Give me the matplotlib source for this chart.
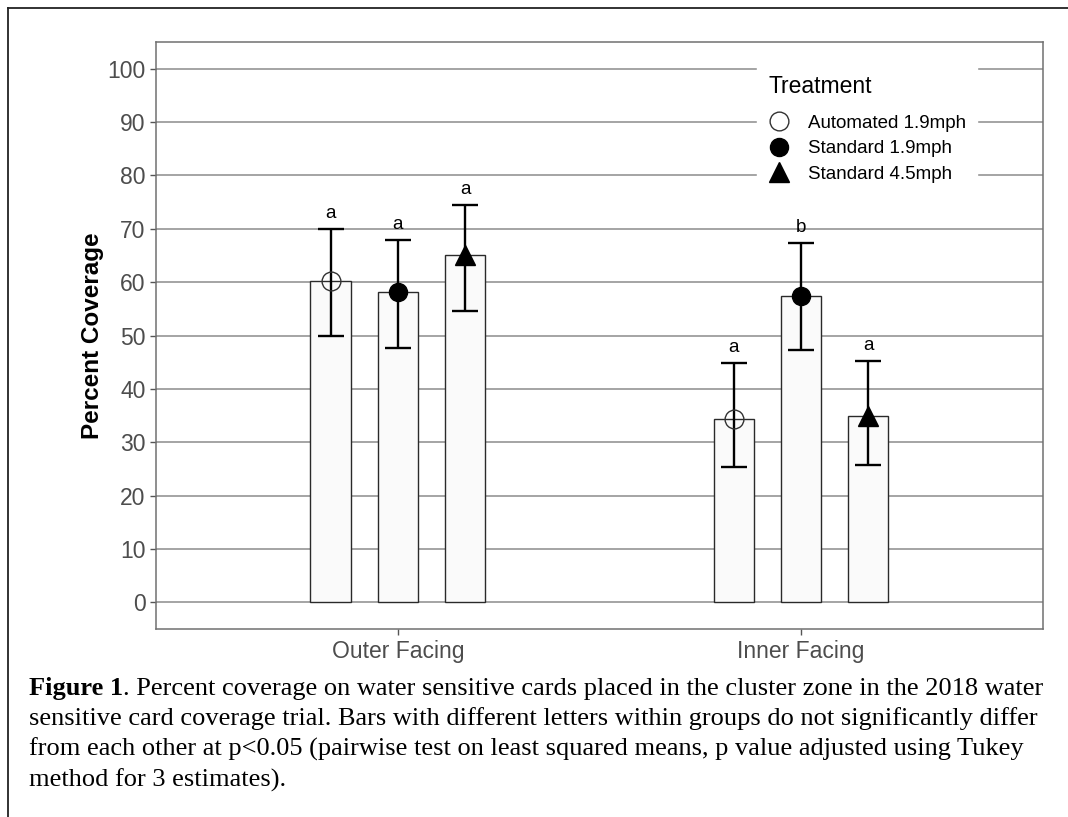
import matplotlib.pyplot as plt
import numpy as np
from matplotlib.lines import Line2D

# Data
groups = ["Outer Facing", "Inner Facing"]
treatments = ["Automated 1.9mph", "Standard 1.9mph", "Standard 4.5mph"]
means = {
    "Automated 1.9mph": [60.2, 34.4],
    "Standard 1.9mph": [58.1, 57.4],
    "Standard 4.5mph": [65.0, 34.9],
}
upper = {
    "Automated 1.9mph": [69.9, 44.9],
    "Standard 1.9mph": [67.9, 67.4],
    "Standard 4.5mph": [74.4, 45.3],
}
lower = {
    "Automated 1.9mph": [50.0, 25.4],
    "Standard 1.9mph": [47.7, 47.2],
    "Standard 4.5mph": [54.6, 25.8],
}
letters = {
    "Automated 1.9mph": ["a", "a"],
    "Standard 1.9mph": ["a", "b"],
    "Standard 4.5mph": ["a", "a"],
}
yticks = list(range(0, 101, 10))

caption_lines = [
    "Percent coverage on water sensitive cards placed in the cluster zone in the 2018 water",
    "sensitive card coverage trial. Bars with different letters within groups do not significantly differ",
    "from each other at p<0.05 (pairwise test on least squared means, p value adjusted using Tukey",
    "method for 3 estimates).",
]

# marker styles per treatment
styles = {
    "Automated 1.9mph": dict(marker="o", mfc="none", mec="#333333", mew=1.0, ms=13.5),
    "Standard 1.9mph": dict(marker="o", mfc="black", mec="black", mew=1.0, ms=13),
    "Standard 4.5mph": dict(marker="^", mfc="black", mec="black", mew=1.0, ms=15),
}

plt.rcParams['font.family'] = ['Liberation Sans', 'DejaVu Sans']

fig = plt.figure(figsize=(10.68, 8.17), dpi=100)
ax = fig.add_axes([0.146, 0.2301, 0.8306, 0.7185])

x = np.arange(len(groups))
dodge = 1 / 6
width = 0.1

for i, t in enumerate(treatments):
    xpos = x + (i - 1) * dodge
    m = np.array(means[t])
    ax.bar(xpos, m, width=width, color="#fafafa", edgecolor="#2a2a2a",
           linewidth=1.0, zorder=2)
    yerr = [m - np.array(lower[t]), np.array(upper[t]) - m]
    ax.errorbar(xpos, m, yerr=yerr, fmt="none", ecolor="black",
                elinewidth=1.7, capsize=9.3, capthick=1.7, zorder=3)
    ax.plot(xpos, m, ls="none", zorder=4, **styles[t])
    for xp, up, lab in zip(xpos, upper[t], letters[t]):
        ax.annotate(lab, (xp, up), xytext=(0, 5), textcoords="offset points",
                    ha="center", va="bottom", fontsize=13.5, color="black")

ax.set_xlim(-0.6, 1.6)
ax.set_ylim(-5, 105)
ax.set_yticks(yticks)
ax.set_xticks(x)
ax.set_xticklabels(groups)
ax.tick_params(axis="both", colors="#555555", labelcolor="#4d4d4d",
               labelsize=16.5, length=4, width=1.0)
ax.tick_params(axis="x", pad=4)
ax.grid(axis="y", color="#8c8c8c", linewidth=1.1, zorder=0)
ax.set_axisbelow(True)
for s in ax.spines.values():
    s.set_color("#707070")
    s.set_linewidth(1.1)
ax.set_ylabel("Percent Coverage", fontsize=17.5, fontweight="bold",
              color="black", labelpad=2)

# legend
handles = [Line2D([], [], ls="none", **styles[t]) for t in treatments]
leg = ax.legend(handles, treatments, title="Treatment", loc="upper left",
                bbox_to_anchor=(0.7, 0.9337), bbox_transform=fig.transFigure,
                fontsize=13.5, title_fontsize=16.5, frameon=True,
                facecolor="white", edgecolor="white", framealpha=1,
                labelspacing=0.45, handletextpad=0.9, borderpad=0.6,
                handlelength=1.2)
leg._legend_box.align = "left"
leg._legend_box.sep = 12
leg.set_zorder(5)

# outer frame of the figure image
fig.add_artist(Line2D([8 / 1068, 1], [1 - 8 / 817, 1 - 8 / 817],
                      transform=fig.transFigure, color="#222222", lw=1.3))
fig.add_artist(Line2D([8 / 1068, 8 / 1068], [0, 1 - 8 / 817],
                      transform=fig.transFigure, color="#222222", lw=1.3))

# caption
serif = ['Liberation Serif', 'DejaVu Serif']
cap_size = 19
baselines = [695, 725, 756, 787]
cap_x = 29 / 1068
bold = fig.text(cap_x, 1 - baselines[0] / 817, "Figure 1", family=serif,
                fontweight="bold", fontsize=cap_size, va="baseline")
ax.annotate(". " + caption_lines[0], xy=(1, 0), xycoords=bold,
            va="bottom", ha="left", family=serif, fontsize=cap_size,
            annotation_clip=False)
for line, b in zip(caption_lines[1:], baselines[1:]):
    fig.text(cap_x, 1 - b / 817, line, family=serif, fontsize=cap_size,
             va="baseline")

fig.savefig("out.png", dpi=100)
